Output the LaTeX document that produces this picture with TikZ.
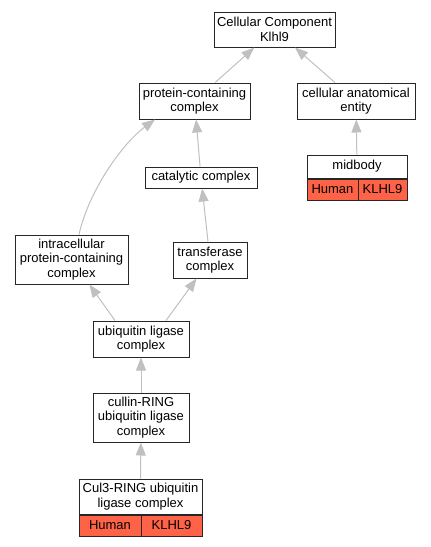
\documentclass[tikz,border=0pt]{standalone}
\usepackage{fontspec}
\setmainfont{Liberation Sans}
\usepackage{tikz}
\usetikzlibrary{arrows.meta}
\usetikzlibrary{positioning}
\definecolor{tomato}{RGB}{255,99,71}
\definecolor{edgegray}{RGB}{192,192,192}

\begin{document}
\begin{tikzpicture}
	[x=1pt,y=-1pt,inner sep=0pt,
	box/.style={draw=black!85,line width=1pt,fill=white,align=center,font=\fontsize{13}{14.5}\selectfont},
	tag/.style={box,fill=tomato,minimum height=21pt},
	edge/.style={draw=edgegray,line width=1pt,-{Triangle[length=13pt,width=10pt]}}]
	\useasboundingbox (0,0) rectangle (431,547);
	\node [box,minimum width=121pt,minimum height=35pt] (cc) at (274.5,29.5) {Cellular Component\\Klhl9};
	\node [box,minimum width=111pt,minimum height=36pt] (pcc) at (194.5,101) {protein-containing\\complex};
	\node [box,minimum width=118pt,minimum height=36pt] (cae) at (356,101) {cellular anatomical\\entity};
	\node [box,minimum width=100pt,minimum height=23pt] (mb) at (357,166.5) {midbody};
	\node [tag,minimum width=51pt,anchor=north west] (mbhuman) at (mb.south west) {Human};
	\node [tag,minimum width=49pt,anchor=north east] (mbgene) at (mb.south east) {KLHL9};
	\node [box,minimum width=112pt,minimum height=21pt] (cat) at (201,177.5) {catalytic complex};
	\node [box,minimum width=113pt,minimum height=49pt] (intra) at (71.5,259.5) {intracellular\\protein-containing\\complex};
	\node [box,minimum width=74pt,minimum height=36pt] (trans) at (210,260) {transferase\\complex};
	\node [box,minimum width=96pt,minimum height=36pt] (ubq) at (141,339) {ubiquitin ligase\\complex};
	\node [box,minimum width=96pt,minimum height=49pt] (crl) at (141,417.5) {cullin-RING\\ubiquitin ligase\\complex};
	\node [box,minimum width=123pt,minimum height=35pt] (cul3) at (140.5,496.5) {Cul3-RING ubiquitin\\ligase complex};
	\node [tag,minimum width=62pt,anchor=north west] (cul3human) at (cul3.south west) {Human};
	\node [tag,minimum width=61pt,anchor=north east] (cul3gene) at (cul3.south east) {KLHL9};
	\draw[edge] (pcc) -- (cc);
	\draw[edge] (cae) -- (cc);
	\draw[edge] (mb) -- (cae);
	\draw[edge] (cat) -- (pcc);
	\draw[edge] ([xshift=7.5pt]intra.north) .. controls (89,190) and (123,143) .. ([xshift=-39.5pt]pcc.south);
	\draw[edge] (trans) -- (cat);
	\draw[edge] ([xshift=-26pt]ubq.north) -- (intra);
	\draw[edge] ([xshift=25pt]ubq.north) -- (trans);
	\draw[edge] (crl) -- (ubq);
	\draw[edge] (cul3) -- (crl);
\end{tikzpicture}
\end{document}
